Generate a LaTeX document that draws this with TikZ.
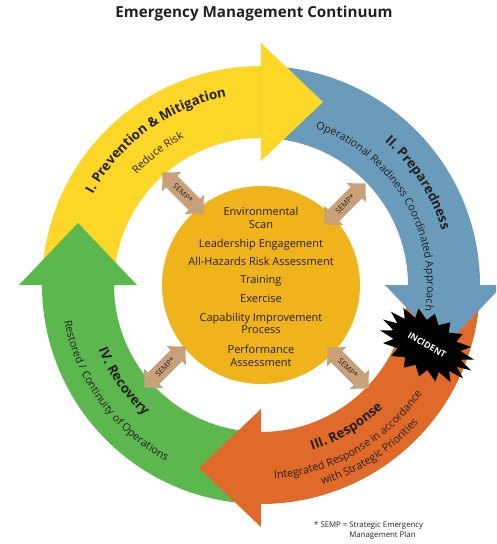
\documentclass[tikz,border=0pt]{standalone}
\usepackage{fontspec}
\setmainfont{Open Sans}
\usetikzlibrary{decorations.text}
\definecolor{cyellow}{RGB}{252,215,40}
\definecolor{cblue}{RGB}{107,155,186}
\definecolor{corange}{RGB}{223,106,42}
\definecolor{cgreen}{RGB}{92,184,78}
\definecolor{cgold}{RGB}{239,179,28}
\definecolor{ctan}{RGB}{200,160,122}
\definecolor{ctext}{RGB}{35,31,32}
\newcommand\ringTitleFont{\bfseries\fontsize{13.3}{14}\selectfont}
\newcommand\ringSubFont{\fontsize{10.8}{12}\selectfont}
\tikzset{
  arctext/.style={decorate, decoration={text along path, text align=center, text color=ctext, text={#1}}},
  semparrow/.pic={
    \fill[ctan] (-29,0) -- (-16,13.5) -- (-16,8) -- (16,8) -- (16,13.5) -- (29,0)
      -- (16,-13.5) -- (16,-8) -- (-16,-8) -- (-16,-13.5) -- cycle;
    \node[transform shape, text=ctext, font=\fontsize{7.6}{8}\selectfont, inner sep=0pt] (-sem) at (0,0) {SEMP*};
  }
}
\begin{document}
\begin{tikzpicture}[x=1pt,y=1pt]
\useasboundingbox (-261,-259) rectangle (235,285);
\clip (-261,-259) rectangle (235,285);
\def\Ro{219}
\def\Ri{147}
% bands
\fill[cyellow] (182:\Ro) arc[start angle=182,end angle=88,radius=\Ro] -- (88:\Ri) arc[start angle=88,end angle=182,radius=\Ri] -- cycle;
\fill[cblue] (90:\Ro) arc[start angle=90,end angle=-2,radius=\Ro] -- (-2:\Ri) arc[start angle=-2,end angle=90,radius=\Ri] -- cycle;
\fill[corange] (0:\Ro) arc[start angle=0,end angle=-92,radius=\Ro] -- (-92:\Ri) arc[start angle=-92,end angle=0,radius=\Ri] -- cycle;
\fill[cgreen] (-90:\Ro) arc[start angle=-90,end angle=-182,radius=\Ro] -- (-182:\Ri) arc[start angle=-182,end angle=-90,radius=\Ri] -- cycle;
% heads
\fill[cyellow] (0,124) -- (0,242) -- (62,183) -- cycle;
\fill[cblue] (124,0) -- (242,0) -- (183,-62) -- cycle;
\fill[corange] (0,-124) -- (0,-242) -- (-62,-183) -- cycle;
\fill[cgreen] (-124,0) -- (-242,0) -- (-183,62) -- cycle;
% core circle
\fill[cgold] (0,0) circle[radius=99];
% SEMP arrows
\path (-78,92) pic[rotate=-45] (s1) {semparrow};
\path (84,81) pic[rotate=45] (s2) {semparrow};
\path (-96,-82) pic[rotate=45] (s3) {semparrow};
\path (87,-83) pic[rotate=-45] (s4) {semparrow};
% incident star
\begin{scope}[shift={(166,-60)}, rotate=-30, yscale=0.62]
\fill[black] (0:51) \foreach \i [evaluate=\i as \rr using {37+14*mod(\i+1,2)}] in {1,...,35} { -- (\i*10:\rr) } -- cycle;
\end{scope}
\node[rotate=-30, text=white, font=\bfseries\fontsize{8.8}{9}\selectfont] (inc) at (166,-60) {INCIDENT};
% ring texts
\path[arctext={|\ringTitleFont|I. Prevention {\&} Mitigation}] (171:191) arc[start angle=171,end angle=81,radius=191];
\path[arctext={|\ringSubFont|Reduce Risk}] (173:166) arc[start angle=173,end angle=83,radius=166];
\path[arctext={|\ringTitleFont|II. Preparedness}] (78:189) arc[start angle=78,end angle=-12,radius=189];
\path[arctext={|\ringSubFont|Operational Readiness Coordinated Approach}] (81:166) arc[start angle=81,end angle=-19,radius=166];
\path[arctext={|\ringTitleFont|III. Response}] (-104:173) arc[start angle=-104,end angle=-14,radius=173];
\path[arctext={|\ringSubFont|Integrated Response in accordance}] (-105:194) arc[start angle=-105,end angle=-15,radius=194];
\path[arctext={|\ringSubFont|with Strategic Priorities}] (-102:209) arc[start angle=-102,end angle=-12,radius=209];
\path[arctext={|\ringTitleFont|IV. Recovery}] (170:175) arc[start angle=170,end angle=260,radius=175];
\path[arctext={|\ringSubFont|Restored / Continuity of Operations}] (171:200) arc[start angle=171,end angle=261,radius=200];
% core text
\node[text=ctext, align=center, font=\fontsize{11}{12.5}\selectfont] (core) at (0,-2)
 {Environmental\\Scan\\[6.5pt]Leadership Engagement\\[5.5pt]All-Hazards Risk Assessment\\[5.5pt]Training\\[6.5pt]Exercise\\[6.5pt]Capability Improvement\\Process\\[7.5pt]Performance\\Assessment};
% title
\node[text=ctext, font=\bfseries\fontsize{15.2}{16}\selectfont] (title) at (-7,271) {Emergency Management Continuum};
% footnote
\node[text=ctext, anchor=north west, inner sep=0pt, font=\fontsize{7.8}{9.5}\selectfont] (foot) at (53,-236)
 {\begin{tabular}{@{}l@{\ }l@{}}* SEMP = & Strategic Emergency\\ & Management Plan\end{tabular}};
\end{tikzpicture}
\end{document}
